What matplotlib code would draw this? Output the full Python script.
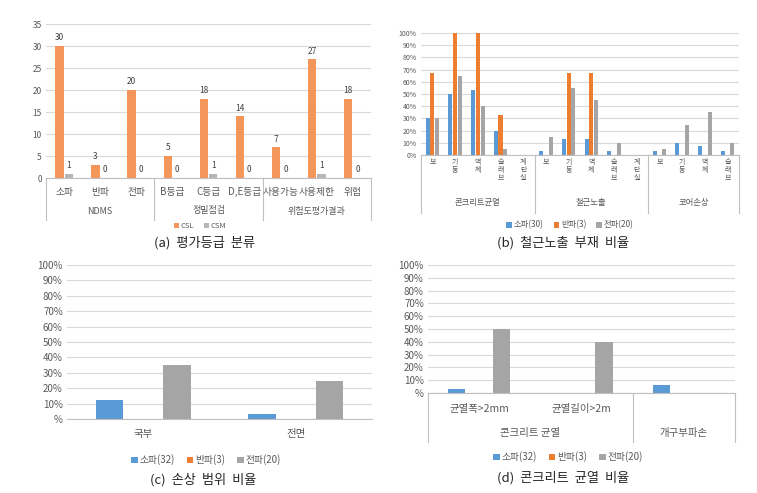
import matplotlib as mpl
from matplotlib import pyplot as plt
import numpy as np

plt.rcParams['font.family'] = ['Noto Sans CJK KR', 'DejaVu Sans']

# (a) 평가등급 분류
a_cats = ['소파', '반파', '전파', 'B등급', 'C등급', 'D,E등급', '사용가능', '사용제한', '위험']
a_groups = [('NDMS', 3), ('정밀점검', 3), ('위험도평가결과', 3)]
a_csl = [30, 3, 20, 5, 18, 14, 7, 27, 18]
a_csm = [1, 0, 0, 0, 1, 0, 0, 1, 0]

# (b) 철근노출 부재 비율
b_cats = ['보', '기둥', '벽체', '슬래브', '계단실',
          '보', '기둥', '벽체', '슬래브', '계단실',
          '보', '기둥', '벽체', '슬래브']
b_groups = [('콘크리트균열', 5), ('철근노출', 5), ('코어손상', 4)]
b_so = [0.30, 0.50, 0.53, 0.20, 0, 0.03, 0.13, 0.13, 0.03, 0, 0.03, 0.10, 0.07, 0.03]
b_ban = [0.67, 1.00, 1.00, 0.33, 0, 0, 0.67, 0.67, 0, 0, 0, 0, 0, 0]
b_jeon = [0.30, 0.65, 0.40, 0.05, 0, 0.15, 0.55, 0.45, 0.10, 0, 0.05, 0.25, 0.35, 0.10]

# (c) 손상 범위 비율
c_cats = ['국부', '전면']
c_so = [0.125, 0.03]
c_ban = [0, 0]
c_jeon = [0.35, 0.25]

# (d) 콘크리트 균열 비율
d_cats = ['균열폭>2mm', '균열길이>2m', '']
d_groups = [('콘크리트 균열', 2), ('개구부파손', 1)]
d_so = [0.03, 0, 0.06]
d_ban = [0, 0, 0]
d_jeon = [0.50, 0.40, 0]

BLUE = '#5B9BD5'
ORANGE = '#ED7D31'
GRAY = '#A5A5A5'
TXT = '#595959'
GRID = '#D9D9D9'

W, H = 757, 493
fig = plt.figure(figsize=(W / 100, H / 100), dpi=100)


def box(l, r, t, b):
    return [l / W, 1 - b / H, (r - l) / W, (b - t) / H]


def fy(py):
    return 1 - py / H


def style(ax, ymax, step, pct, fs):
    ax.set_ylim(0, ymax)
    ticks = np.arange(0, ymax + step / 2, step)
    ax.set_yticks(ticks)
    if pct:
        ax.set_yticklabels(['%' if t == 0 else f'{int(round(t * 100))}%' for t in ticks])
    ax.tick_params(axis='y', length=0, labelsize=fs, colors=TXT, pad=3)
    ax.tick_params(axis='x', length=0)
    ax.set_xticks([])
    for s in ['top', 'right', 'left']:
        ax.spines[s].set_visible(False)
    ax.spines['bottom'].set_color('#BFBFBF')
    ax.grid(axis='y', color=GRID, lw=0.8)
    ax.set_axisbelow(True)


def multilevel(ax, cats, groups, ycat, ygrp, ybot, fs_cat, fs_grp, cat_va='center', ls=1.2):
    tr = mpl.transforms.blended_transform_factory(ax.transData, fig.transFigure)
    for i, c in enumerate(cats):
        ax.text(i, fy(ycat), c, transform=tr, ha='center', va=cat_va,
                fontsize=fs_cat, color=TXT, linespacing=ls)
    start = -0.5
    ytop = ax.get_position().y0
    ax.plot([start, start], [ytop, fy(ybot)], transform=tr, color='#BFBFBF',
            lw=0.8, clip_on=False)
    for name, n in groups:
        end = start + n
        ax.text((start + end) / 2, fy(ygrp), name, transform=tr, ha='center',
                va='center', fontsize=fs_grp, color=TXT)
        ax.plot([end, end], [ytop, fy(ybot)], transform=tr, color='#BFBFBF',
                lw=0.8, clip_on=False)
        start = end


def legend(ax, handles, labels, x, y, fs):
    ax.legend(handles, labels, loc='center', bbox_to_anchor=(x / W, fy(y)),
              bbox_transform=fig.transFigure, ncol=len(labels), frameon=False,
              fontsize=fs, handlelength=0.7, handleheight=0.7, handletextpad=0.2,
              columnspacing=1.2, labelcolor=TXT)


# ---------- (a)
ax = fig.add_axes(box(46, 371, 24, 178))
x = np.arange(len(a_cats))
b1 = ax.bar(x - 0.13, a_csl, 0.23, color='#F4965A')
b2 = ax.bar(x + 0.13, a_csm, 0.23, color='#B7B7B7')
for xi, v in zip(x, a_csl):
    ax.text(xi - 0.13, v + 0.8, str(v), ha='center', va='bottom', fontsize=6, color='#404040')
for xi, v in zip(x, a_csm):
    ax.text(xi + 0.13, v + 0.8, str(v), ha='center', va='bottom', fontsize=6, color='#404040')
ax.set_xlim(-0.5, len(a_cats) - 0.5)
style(ax, 35, 5, False, 6)
multilevel(ax, a_cats, a_groups, 192, 211, 220, 7, 6.5)
legend(ax, [b1, b2], ['CSL', 'CSM'], 200, 226, 5.5)
fig.text(205 / W, fy(243), '(a)  평가등급  분류', ha='center', va='center', fontsize=9.5, color='#262626')

# ---------- (b)
ax = fig.add_axes(box(421, 739, 33, 155))
x = np.arange(len(b_cats))
h1 = ax.bar(x - 0.21, b_so, 0.18, color=BLUE)
h2 = ax.bar(x, b_ban, 0.18, color=ORANGE)
h3 = ax.bar(x + 0.21, b_jeon, 0.18, color=GRAY)
ax.set_xlim(-0.5, len(b_cats) - 0.5)
style(ax, 1.0, 0.1, True, 5)
ax.set_yticklabels([f'{int(round(t * 100))}%' for t in np.arange(0, 1.05, 0.1)])
multilevel(ax, ['\n'.join(c) for c in b_cats], b_groups, 158, 203, 213, 5, 6,
           cat_va='top', ls=1.0)
legend(ax, [h1, h2, h3], ['소파(30)', '반파(3)', '전파(20)'], 570, 225, 6)
fig.text(563 / W, fy(243), '(b)  철근노출  부재  비율', ha='center', va='center', fontsize=9.5, color='#262626')

# ---------- (c)
ax = fig.add_axes(box(67, 372, 265, 419))
x = np.arange(len(c_cats))
h1 = ax.bar(x - 0.22, c_so, 0.18, color=BLUE)
h2 = ax.bar(x, c_ban, 0.18, color=ORANGE)
h3 = ax.bar(x + 0.22, c_jeon, 0.18, color=GRAY)
ax.set_xlim(-0.5, len(c_cats) - 0.5)
style(ax, 1.0, 0.1, True, 7)
tr = mpl.transforms.blended_transform_factory(ax.transData, fig.transFigure)
for i, c in enumerate(c_cats):
    ax.text(i, fy(434), c, transform=tr, ha='center', va='center', fontsize=7.5, color=TXT)
legend(ax, [h1, h2, h3], ['소파(32)', '반파(3)', '전파(20)'], 206, 460, 7)
fig.text(203 / W, fy(480), '(c)  손상  범위  비율', ha='center', va='center', fontsize=9.5, color='#262626')

# ---------- (d)
ax = fig.add_axes(box(428, 735, 265, 393))
x = np.arange(len(d_cats))
h1 = ax.bar(x - 0.22, d_so, 0.17, color=BLUE)
h2 = ax.bar(x, d_ban, 0.17, color=ORANGE)
h3 = ax.bar(x + 0.22, d_jeon, 0.17, color=GRAY)
ax.set_xlim(-0.5, len(d_cats) - 0.5)
style(ax, 1.0, 0.1, True, 7)
multilevel(ax, d_cats, d_groups, 409, 433, 442, 7.5, 7.5)
legend(ax, [h1, h2, h3], ['소파(32)', '반파(3)', '전파(20)'], 568, 457, 7)
fig.text(563 / W, fy(478), '(d)  콘크리트  균열  비율', ha='center', va='center', fontsize=9.5, color='#262626')

fig.savefig('out.png', dpi=100)
